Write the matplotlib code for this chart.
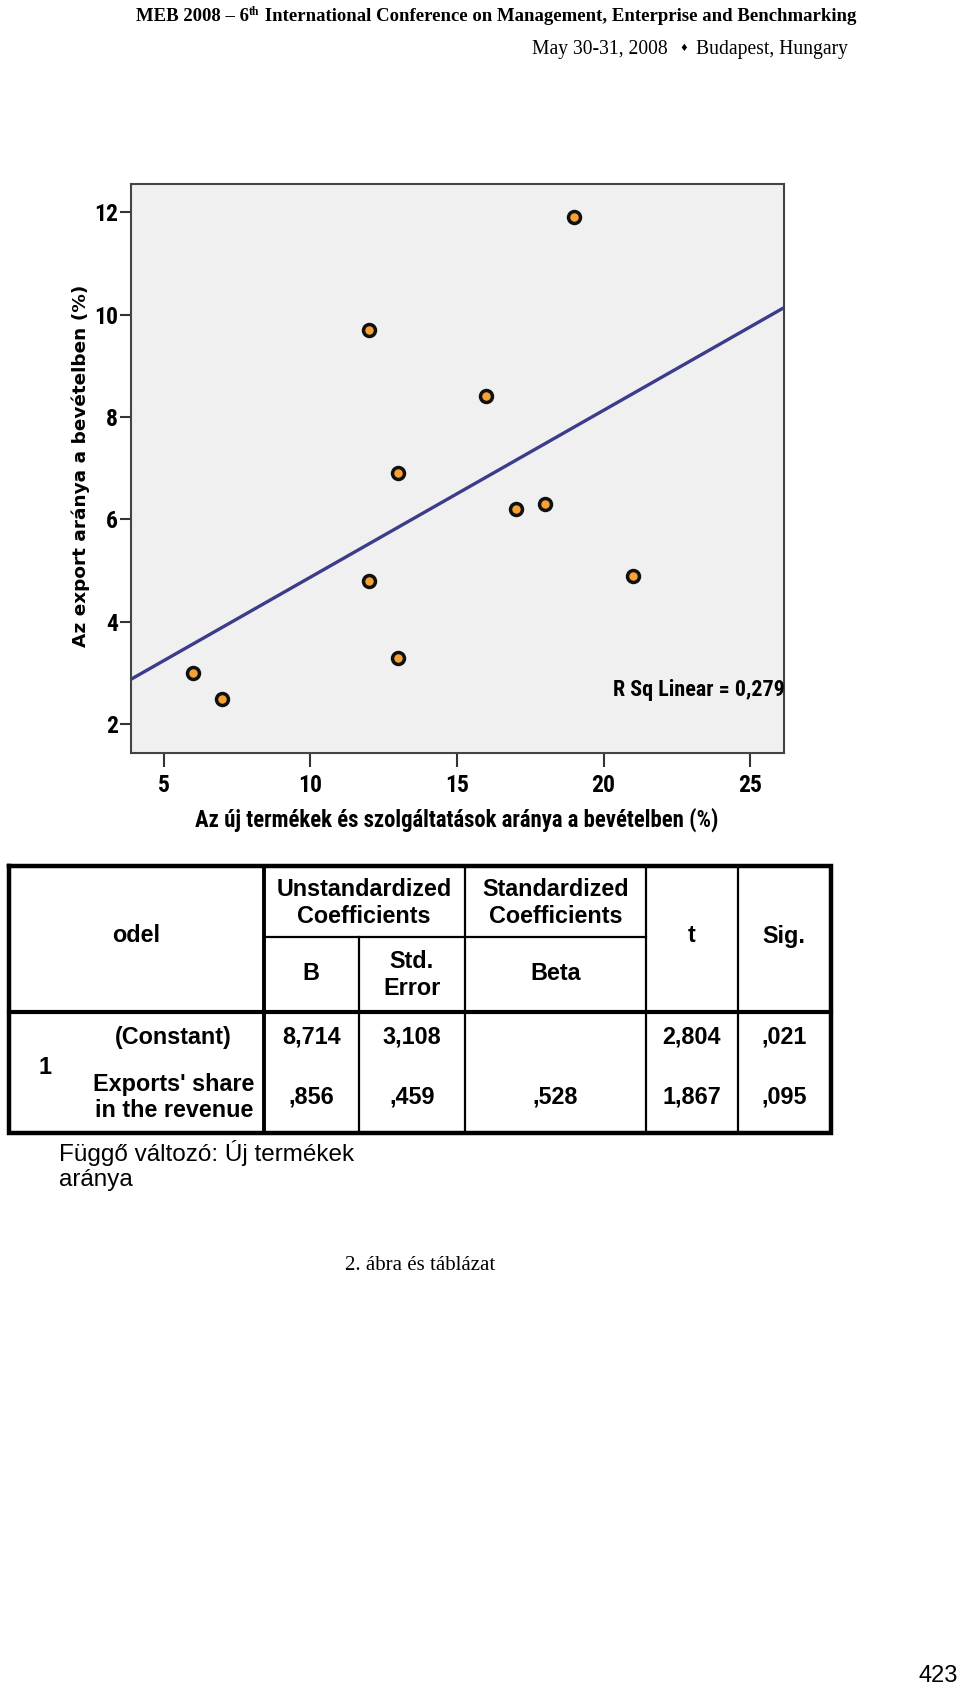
import os
import matplotlib
matplotlib.use("Agg")
import matplotlib.pyplot as plt
from matplotlib import font_manager as fm
import numpy as np

# ---------------- data ----------------
new_products_share = [6, 7, 12, 12, 13, 13, 16, 17, 18, 19, 21]
export_share = [3.0, 2.5, 9.7, 4.8, 6.9, 3.3, 8.4, 6.2, 6.3, 11.9, 4.9]
x_ticks = [5, 10, 15, 20, 25]
y_ticks = [2, 4, 6, 8, 10, 12]
x_label = "Az új termékek és szolgáltatások aránya a bevételben (%)"
y_label = "Az export aránya a bevételben (%)"
r_sq_text = "R Sq Linear = 0,279"

header_title = ["MEB 2008 – 6", "th", " International Conference on Management, Enterprise and Benchmarking"]
header_date = "May 30-31, 2008"
header_place = "Budapest, Hungary"

model_header = "odel"
group_headers = ["Unstandardized\nCoefficients", "Standardized\nCoefficients"]
sub_headers = ["B", "Std.\nError", "Beta"]
stat_headers = ["t", "Sig."]
model_number = "1"
row_labels = ["(Constant)", "Exports' share\nin the revenue"]
col_b = ["8,714", ",856"]
col_se = ["3,108", ",459"]
col_beta = ["", ",528"]
col_t = ["2,804", "1,867"]
col_sig = [",021", ",095"]
footnote = "Függő változó: Új termékek\naránya"
caption = "2. ábra és táblázat"
page_number = "423"

# ---------------- fonts ----------------
SANS = "Liberation Sans"
SERIF = "Liberation Serif"


def find_font(names):
    files = {os.path.basename(f.fname): f.fname for f in fm.fontManager.ttflist}
    for n in names:
        if n in files:
            return files[n]
    return None


narrow_file = find_font(["LiberationSansNarrow-Bold.ttf", "RobotoCondensed-Bold.ttf",
                         "DejaVuSansCondensed-Bold.ttf"])


def narrow_fp(size):
    if narrow_file:
        return fm.FontProperties(fname=narrow_file, size=size)
    return fm.FontProperties(family=SANS, weight="bold", size=size)


W, H = 960, 1688
fig = plt.figure(figsize=(W / 100, H / 100), dpi=100)
fig.patch.set_facecolor("white")

page = fig.add_axes([0, 0, 1, 1])
page.set_xlim(0, W)
page.set_ylim(H, 0)
page.axis("off")
renderer = fig.canvas.get_renderer()


def px_rect(l, t, r, b):
    return [l / W, 1 - b / H, (r - l) / W, (b - t) / H]


def text_width(txt, **kw):
    t = page.text(0, 0, txt, **kw)
    w = t.get_window_extent(renderer).width
    t.remove()
    return w


def fit_fp(txt, target_w, base=16.0):
    w = text_width(txt, fontproperties=narrow_fp(base))
    return narrow_fp(base * target_w / w)


# ---------------- scatter chart ----------------
ax = fig.add_axes(px_rect(131, 184, 783.7, 753.3))
ax.set_facecolor("#f0f0f0")
ax.set_xlim(3.89, 26.14)
ax.set_ylim(1.43, 12.55)

slope, intercept = np.polyfit(new_products_share, export_share, 1)
xl = np.array(ax.get_xlim())
ax.plot(xl, intercept + slope * xl, color="#3c3c8a", lw=2.4, zorder=2, solid_capstyle="butt")
ax.scatter(new_products_share, export_share, s=74, facecolor="#f4a232",
           edgecolor="#111111", linewidths=2.5, zorder=3)

ax.set_xticks(x_ticks)
ax.set_yticks(y_ticks)
ax.tick_params(axis="x", length=10, width=1.5, pad=5, color="#333333")
ax.tick_params(axis="y", length=8, width=1.5, pad=1.5, color="#333333")
tick_fs = 17 if narrow_file else 14.5
for lab in ax.get_xticklabels() + ax.get_yticklabels():
    lab.set_fontproperties(narrow_fp(tick_fs))
for sp in ax.spines.values():
    sp.set_color("#444444")
    sp.set_linewidth(1.5)

ax.text(20.32, 2.54, r_sq_text, fontproperties=fit_fp(r_sq_text, 171),
        va="baseline", ha="left", clip_on=False, zorder=4)

page.text(457, 820, x_label, fontproperties=fit_fp(x_label, 525),
          ha="center", va="center")
yl_w = text_width(y_label, family="DejaVu Sans", weight="bold", fontsize=12)
page.text(81, 465.5, y_label, family="DejaVu Sans", weight="bold", fontsize=12 * 361 / yl_w,
          rotation=90, ha="center", va="center")

# ---------------- page header ----------------
kw_main = dict(family=SERIF, weight="bold")
base_fs = 12.0
w_total = (text_width(header_title[0], fontsize=base_fs, **kw_main)
           + text_width(header_title[1], fontsize=base_fs * 0.62, **kw_main)
           + text_width(header_title[2], fontsize=base_fs, **kw_main))
fs1 = base_fs * 713 / w_total
x = 856 - 713
y_base = 21
items = []
for txt, fs, dy in zip(header_title, [fs1, fs1 * 0.62, fs1], [0, -6, 0]):
    t = page.text(x, y_base + dy, txt, fontsize=fs, ha="left", va="baseline", **kw_main)
    x += t.get_window_extent(renderer).width
    items.append(t)
shift = 856 - items[-1].get_window_extent(renderer).x1
for t in items:
    px, py = t.get_position()
    t.set_position((px + shift, py))

w_place = text_width(header_place, fontsize=12, family=SERIF)
w_date = text_width(header_date, fontsize=12, family=SERIF)
fs_line2 = 12 * (140 + 147) / (w_place + w_date)
page.text(848, 54, header_place, family=SERIF, fontsize=fs_line2, ha="right", va="baseline")
page.text(668, 54, header_date, family=SERIF, fontsize=fs_line2, ha="right", va="baseline")
page.text(684, 48, "\u2666", family="DejaVu Sans", fontsize=7, ha="center", va="center")

# ---------------- regression table ----------------
L, R, T, B = 8.7, 831, 865.7, 1132.7
DIV, SUB = 1011.7, 937.3
c1, c2, c3, c4, c5 = 263.5, 359, 465, 645.8, 737.7
k = "black"
page.plot([L, R, R, L, L], [T, T, B, B, T], color=k, lw=3.2, solid_joinstyle="miter")
page.plot([L, R], [DIV, DIV], color=k, lw=3.0)
page.plot([c1, c4], [SUB, SUB], color=k, lw=1.6)
page.plot([c1, c1], [T, B], color=k, lw=2.8)
page.plot([c2, c2], [SUB, B], color=k, lw=1.6)
for cx in (c3, c4, c5):
    page.plot([cx, cx], [T, B], color=k, lw=1.6)

TFS = 16.8
PITCH = 26.5


def cell(xc, yc, txt, ha="center", weight="bold", family=SANS, fs=TFS):
    lines = txt.split("\n")
    n = len(lines)
    for i, line in enumerate(lines):
        yy = yc + (i - (n - 1) / 2) * PITCH
        page.text(xc, yy, line, family=family, weight=weight, fontsize=fs,
                  ha=ha, va="center")


cell(136, 935, model_header)
cell((c1 + c3) / 2, 903, group_headers[0])
cell((c3 + c4) / 2, 903, group_headers[1])
cell((c1 + c2) / 2, 974, sub_headers[0])
cell((c2 + c3) / 2, 975, sub_headers[1])
cell((c3 + c4) / 2, 974, sub_headers[2])
cell((c4 + c5) / 2, 936, stat_headers[0])
cell((c5 + R) / 2, 936, stat_headers[1])

row_y = [1037, 1097]
cell(44.5, 1068, model_number)
cell(173, 1037.5, row_labels[0])
cell(174, 1097.5, row_labels[1])
for i in range(2):
    cell((c1 + c2) / 2, row_y[i], col_b[i])
    cell((c2 + c3) / 2, row_y[i], col_se[i])
    if col_beta[i]:
        cell((c3 + c4) / 2, row_y[i], col_beta[i])
    cell((c4 + c5) / 2, row_y[i], col_t[i])
    cell((c5 + R) / 2, row_y[i], col_sig[i])

foot_lines = footnote.split("\n")
fw = text_width(foot_lines[0], family=SANS, fontsize=16)
for i, line in enumerate(foot_lines):
    page.text(59, 1153 + i * 27, line, family=SANS, fontsize=16 * 296 / fw, ha="left", va="center")

page.text(420, 1265, caption, family=SERIF, fontsize=15, ha="center", va="center")
page.text(958, 1676, page_number, family=SANS, fontsize=17, ha="right", va="center")

fig.savefig("out.png", dpi=100, facecolor="white")
